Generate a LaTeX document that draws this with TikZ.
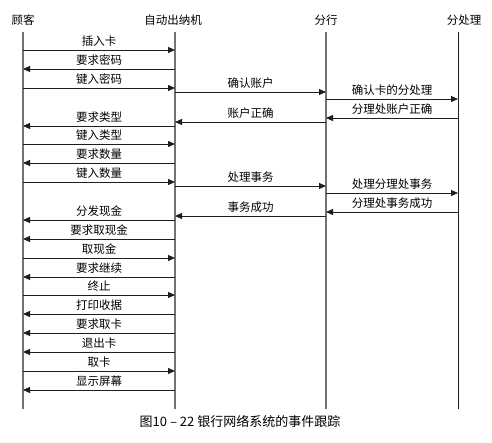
\documentclass[tikz,border=0pt]{standalone}
\usepackage{fontspec}
\setmainfont{Noto Sans CJK SC}
\usetikzlibrary{arrows.meta, positioning}
\definecolor{mydark}{RGB}{30,30,30}
\definecolor{mygray}{RGB}{115,115,115}
\tikzset{
  head/.style={font=\fontsize{11.5}{13}\selectfont, inner sep=1pt},
  life/.style={draw=mygray, line width=1.5pt},
  lifeend/.style={draw=mydark, line width=1pt},
  msg/.style={draw=mydark, line width=0.9pt, -{Triangle[length=7pt, width=6pt]}},
  lbl/.style={font=\fontsize{11.5}{13}\selectfont, inner sep=0pt, above=3pt}
}

\begin{document}
\begin{tikzpicture}[x=1pt, y=-1pt]
  \useasboundingbox (0,0) rectangle (492,443);

  % objects
  \node [head] (kh) at (23,20) {顾客};
  \node [head] (atm) at (173,20) {自动出纳机};
  \node [head] (fh) at (326,20) {分行};
  \node [head] (cl) at (464,20) {分处理};

  \coordinate (kh-top) at (23,32);
  \coordinate (atm-top) at (175,32);
  \coordinate (fh-top) at (326,32);
  \coordinate (cl-top) at (458,32);
  \coordinate (kh-bot) at (23,409);
  \coordinate (atm-bot) at (175,409);
  \coordinate (fh-bot) at (326,409);
  \coordinate (cl-bot) at (458,409);

  \draw [life] (kh-top) -- (kh-bot);
  \draw [life] (atm-top) -- (atm-bot);
  \draw [life] (fh-top) -- (fh-bot);
  \draw [lifeend] (cl-top) -- (cl-bot);

  % events
  \foreach \y/\a/\b/\t [count=\i] in {
      50/kh/atm/插入卡, 69/atm/kh/要求密码, 88/kh/atm/键入密码,
      92/atm/fh/确认账户, 99/fh/cl/确认卡的分处理, 118/cl/fh/分理处账户正确,
      122/fh/atm/账户正确, 126/atm/kh/要求类型, 144/kh/atm/键入类型,
      163/atm/kh/要求数量, 182/kh/atm/键入数量, 186/atm/fh/处理事务,
      193/fh/cl/处理分理处事务, 212/cl/fh/分理处事务成功, 216/fh/atm/事务成功,
      220/atm/kh/分发现金, 239/atm/kh/要求取现金, 258/kh/atm/取现金,
      277/atm/kh/要求继续, 295/kh/atm/终止, 314/atm/kh/打印收据,
      333/atm/kh/要求取卡, 352/atm/kh/退出卡, 371/kh/atm/取卡,
      390/atm/kh/显示屏幕} {
    \coordinate (m\i-s) at (\a-top |- 0,\y);
    \coordinate (m\i-e) at (\b-top |- 0,\y);
    \draw [msg] (m\i-s) -- node [lbl] {\t} (m\i-e);
  }

  \node [font=\fontsize{13}{15}\selectfont] (cap) at (240,421) {图10 – 22\ 银行网络系统的事件跟踪};
\end{tikzpicture}
\end{document}
